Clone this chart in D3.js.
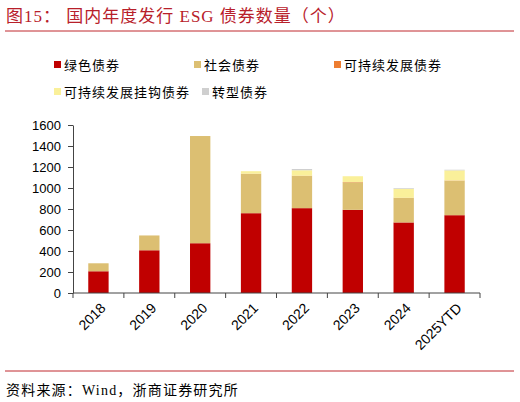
<!DOCTYPE html>
<html>
<head>
<meta charset="utf-8">
<script src="https://cdn.jsdelivr.net/npm/d3@7"></script>
<style>
  body { margin: 0; background: #fff; }
  svg { display: block; }
  .axis text { font-family: Arial, "Liberation Sans", sans-serif; font-size: 13px; fill: #000; }
  .x-axis text { font-size: 14px; }
  .axis path, .axis line { stroke: #444; }
</style>
</head>
<body>
<svg id="chart" width="520" height="402"></svg>
<script>
const years = ['2018', '2019', '2020', '2021', '2022', '2023', '2024', '2025YTD'];
const greenBonds = [207, 407, 474, 760, 808, 792, 672, 741];
const socialBonds = [76, 141, 1021, 374, 307, 262, 233, 329];
const sustainBonds = [0, 0, 0, 2, 2, 3, 2, 2];
const slbBonds = [0, 0, 0, 24, 52, 55, 85, 96];
const transitionBonds = [0, 0, 0, 0, 12, 0, 7, 6];
const yTicks = [0, 200, 400, 600, 800, 1000, 1200, 1400, 1600];

const seriesNames = ['绿色债券', '社会债券', '可持续发展债券', '可持续发展挂钩债券', '转型债券'];
const seriesColors = ['#C00000', '#DCBF72', '#ED7D31', '#FAF09A', '#CFCFCF'];
const seriesValues = [greenBonds, socialBonds, sustainBonds, slbBonds, transitionBonds];

const svg = d3.select('#chart');
const margin = { left: 73, right: 40, top: 125, bottom: 109 };
const width = 520 - margin.left - margin.right;
const height = 402 - margin.top - margin.bottom;

// title
svg.append('text')
  .attr('x', 6)
  .attr('y', 22)
  .attr('fill', '#B8202A')
  .style('font-family', '"Liberation Serif", "Noto Sans CJK SC", serif')
  .style('font-size', '17px')
  .style('letter-spacing', '1px')
  .text('图15：  国内年度发行 ESG 债券数量（个）');
svg.append('line')
  .attr('x1', 5).attr('x2', 514)
  .attr('y1', 31).attr('y2', 31)
  .attr('stroke', '#C0282E').attr('stroke-width', 1);

// legend
const legendPos = [[54, 65], [194, 65], [334, 65], [54, 92], [202, 92]];
const legend = svg.append('g');
seriesNames.forEach((name, i) => {
  const g = legend.append('g')
    .attr('transform', 'translate(' + legendPos[i][0] + ',' + legendPos[i][1] + ')');
  g.append('rect')
    .attr('x', 0).attr('y', -4)
    .attr('width', 7).attr('height', 7)
    .attr('fill', seriesColors[i]);
  g.append('text')
    .attr('x', 10).attr('y', 1)
    .attr('dominant-baseline', 'middle')
    .style('font-family', '"Noto Sans CJK SC", sans-serif')
    .style('font-size', '13px')
    .style('letter-spacing', '1px')
    .attr('fill', '#000')
    .text(name);
});

const data = years.map((y, i) => {
  const row = { year: y };
  seriesNames.forEach((n, k) => { row[n] = seriesValues[k][i]; });
  return row;
});
const stacked = d3.stack().keys(seriesNames)(data);

const x = d3.scaleBand()
  .domain(years)
  .range([0, width])
  .paddingInner(0.6)
  .paddingOuter(0.3);
const y = d3.scaleLinear()
  .domain([0, 1600])
  .range([height, 0]);

const plot = svg.append('g')
  .attr('transform', 'translate(' + margin.left + ',' + margin.top + ')');

plot.selectAll('g.layer')
  .data(stacked)
  .enter()
  .append('g')
  .attr('class', 'layer')
  .attr('fill', (d, i) => seriesColors[i])
  .selectAll('rect')
  .data(d => d)
  .enter()
  .append('rect')
  .attr('x', d => x(d.data.year))
  .attr('width', x.bandwidth())
  .attr('y', d => y(d[1]))
  .attr('height', d => y(d[0]) - y(d[1]));

// y axis
plot.append('g')
  .attr('class', 'axis y-axis')
  .call(d3.axisLeft(y).tickValues(yTicks).tickFormat(d3.format('d'))
    .tickSize(5).tickPadding(7).tickSizeOuter(0));

// x axis with ticks at band edges
const xAxis = plot.append('g')
  .attr('class', 'axis x-axis')
  .attr('transform', 'translate(0,' + height + ')');
xAxis.append('line')
  .attr('x1', 0).attr('x2', width)
  .attr('y1', 0).attr('y2', 0)
  .attr('stroke', '#444');
const edges = years.map(yr => x(yr) - x.step() * x.paddingInner() / 2).concat([width]);
edges[0] = 0;
xAxis.selectAll('line.tick')
  .data(edges)
  .enter()
  .append('line')
  .attr('class', 'tick')
  .attr('x1', d => d).attr('x2', d => d)
  .attr('y1', 0).attr('y2', 5)
  .attr('stroke', '#444');
xAxis.selectAll('text')
  .data(years)
  .enter()
  .append('text')
  .attr('text-anchor', 'end')
  .attr('transform', d => 'translate(' + (x(d) + x.bandwidth() / 2 + 8) + ',16) rotate(-45)')
  .text(d => d);

// footer
svg.append('line')
  .attr('x1', 5).attr('x2', 514)
  .attr('y1', 371).attr('y2', 371)
  .attr('stroke', '#C0282E').attr('stroke-width', 1);
svg.append('text')
  .attr('x', 6)
  .attr('y', 395)
  .attr('fill', '#000')
  .style('font-family', '"Liberation Serif", "Noto Sans CJK SC", serif')
  .style('font-size', '14px')
  .style('letter-spacing', '1.2px')
  .text('资料来源：Wind，浙商证券研究所');
</script>
</body>
</html>
